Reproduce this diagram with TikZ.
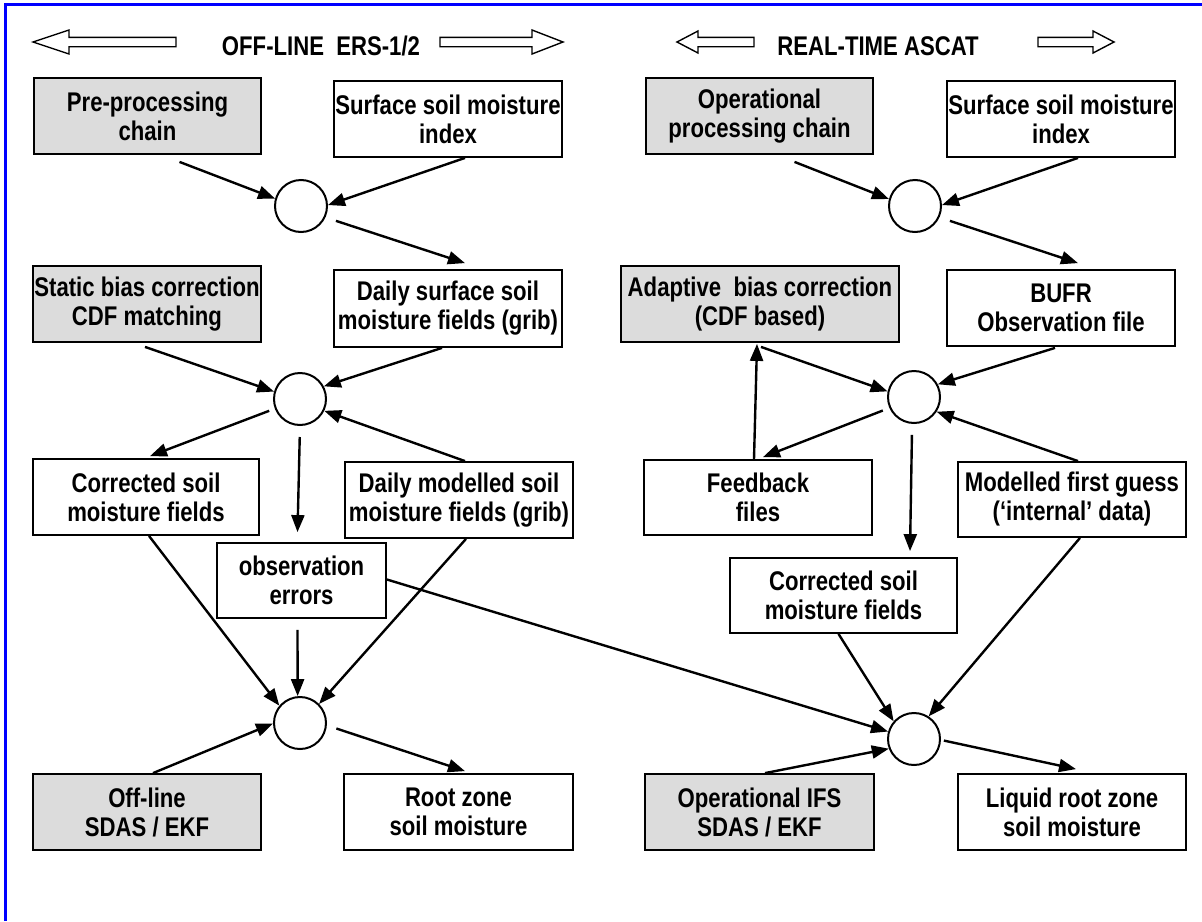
\documentclass[tikz,border=0pt]{standalone}
\usepackage{fontspec}
\setmainfont{Liberation Sans}[FakeStretch=0.82]
\usetikzlibrary{arrows.meta,calc}
\definecolor{boxgray}{HTML}{DCDCDC}
\definecolor{frameblue}{HTML}{0000FF}
\tikzset{
  lbl/.style={font=\fontsize{27}{29}\selectfont\bfseries, align=center, inner sep=0pt},
  wbox/.style={lbl, draw=black, line width=1.8pt, fill=white},
  gbox/.style={wbox, fill=boxgray},
  junction/.style={circle, draw=black, line width=2pt, minimum size=52pt, inner sep=0pt, fill=white},
  flow/.style={line width=2.4pt, -{Triangle[length=17pt,width=13pt]}},
  hdrarrow/.style={draw=black, line width=1.4pt, fill=white},
  hdr/.style={font=\fontsize{27}{29}\selectfont\bfseries, inner sep=0pt, anchor=base}
}
\begin{document}
\begin{tikzpicture}[x=1pt,y=-1pt]
\useasboundingbox (0,0) rectangle (1202,921);
\fill[white] (0,0) rectangle (1202,921);
% frame (top and left only)
\draw[frameblue, line width=3pt] (5,921) -- (5,4) -- (1202,4);

% header arrows
\path[hdrarrow] (33,42) -- (69,30) -- (69,37.3) -- (176,37.3) -- (176,46.7) -- (69,46.7) -- (69,54) -- cycle;
\path[hdrarrow] (440,37.3) -- (532,37.3) -- (532,30) -- (563,42) -- (532,54) -- (532,46.7) -- (440,46.7) -- cycle;
\path[hdrarrow] (677,42) -- (698,31) -- (698,37.3) -- (754,37.3) -- (754,46.7) -- (698,46.7) -- (698,53) -- cycle;
\path[hdrarrow] (1038,37.3) -- (1093,37.3) -- (1093,31) -- (1114,42) -- (1093,53) -- (1093,46.7) -- (1038,46.7) -- cycle;
\node[hdr] (t1) at (321,55) {OFF-LINE~~ERS-1/2};
\node[hdr] (t2) at (878,55) {REAL-TIME ASCAT};

% boxes
\node[gbox, minimum width=227pt, minimum height=76pt] (pre)   at (147.5,116) {Pre-processing\\chain};
\node[wbox, minimum width=228pt, minimum height=76pt] (surfL) at (448,119)   {Surface soil moisture\\index};
\node[gbox, minimum width=227pt, minimum height=76pt] (oper)  at (759.5,116) {Operational\\processing chain};
\node[wbox, minimum width=228pt, minimum height=76pt] (surfR) at (1061,119)  {Surface soil moisture\\index};

\node[gbox, minimum width=228pt, minimum height=76pt] (static) at (147,304)  {Static bias correction\\CDF matching};
\node[wbox, minimum width=228pt, minimum height=77pt] (dsurf)  at (448,308.5){Daily surface soil\\moisture fields (grib)};
\node[gbox, minimum width=278pt, minimum height=76pt] (adapt)  at (760,304)  {Adaptive~~bias correction\\(CDF based)};
\node[wbox, minimum width=228pt, minimum height=76pt] (bufr)   at (1061,308) {BUFR\\Observation file};

\node[wbox, minimum width=226pt, minimum height=76pt] (corrL) at (146,497)   {Corrected soil\\moisture fields};
\node[wbox, minimum width=228pt, minimum height=76pt] (dmod)  at (459,500)   {Daily modelled soil\\moisture fields (grib)};
\node[wbox, minimum width=228pt, minimum height=75pt] (feed)  at (758,497.5) {Feedback\\files};
\node[wbox, minimum width=228pt, minimum height=75pt] (mfg)   at (1072,499.5){Modelled first guess\\(‘internal’ data)};
\node[wbox, minimum width=169pt, minimum height=75pt] (obs)   at (301.5,580.5){observation\\errors};
\node[wbox, minimum width=227pt, minimum height=75pt] (corrR) at (843.5,595.5){Corrected soil\\moisture fields};

\node[gbox, minimum width=228pt, minimum height=76pt] (offl)  at (147,812)   {Off-line\\SDAS / EKF};
\node[wbox, minimum width=229pt, minimum height=76pt] (root)  at (458.5,812) {Root zone\\soil moisture};
\node[gbox, minimum width=229pt, minimum height=76pt] (opifs) at (759.5,812) {Operational IFS\\SDAS / EKF};
\node[wbox, minimum width=228pt, minimum height=76pt] (liq)   at (1072,812)  {Liquid root zone\\soil moisture};

% junctions
\node[junction] (c1L) at (301,206) {};
\node[junction] (c1R) at (915,206) {};
\node[junction] (c2L) at (300,399) {};
\node[junction] (c2R) at (914,397) {};
\node[junction] (c3L) at (300,723) {};
\node[junction] (c3R) at (914,739) {};

% connectors, top row
\draw[flow] ($(pre.south)+(32,7)$) -- (c1L.164);
\draw[flow] ($(surfL.south)+(17,0)$) -- (c1L.2);
\draw[flow, shorten <=11pt] (c1L.335) -- ($(dsurf.north)+(17,-6)$);
\draw[flow] ($(oper.south)+(35,7)$) -- (c1R.165);
\draw[flow] ($(surfR.south)+(17,0)$) -- (c1R.2);
\draw[flow, shorten <=11pt] (c1R.335) -- ($(bufr.north)+(17,-6)$);

% second junctions
\draw[flow] ($(static.south)+(-2,4)$) -- (c2L.164);
\draw[flow] ($(dsurf.south)+(-6,0)$) -- (c2L.28);
\draw[flow, shorten <=6pt] (c2L.201) -- ($(corrL.north)+(4,-2)$);
\draw[flow, shorten <=11pt] (c2L.270) -- ($(obs.north)+(-4,-10)$);
\draw[flow] ($(dmod.north)+(6,0)$) -- (c2L.334);

\draw[flow] ($(adapt.south)+(1,4)$) -- (c2R.168);
\draw[flow] ($(bufr.south)+(-6,1)$) -- (c2R.28);
\draw[flow, shorten <=7pt] (c2R.204) -- ($(feed.north)+(5,-2)$);
\draw[flow, shorten <=11pt] (c2R.266) -- ($(corrR.north)+(66.5,-6)$);
\draw[flow] ($(mfg.north)+(6,0)$) -- (c2R.327);
\draw[flow] ($(feed.north)+(-4,0)$) -- ($(adapt.south)+(-3,1)$);

% bottom junctions
\draw[flow] ($(corrL.south)+(3,0)$) -- (c3L.140);
\draw[flow] ($(obs.south)+(-4,11)$) -- (c3L.95);
\draw[flow] ($(dmod.south)+(7,0)$) -- (c3L.45);
\draw[flow] ($(offl.north)+(6,0)$) -- (c3L.181);
\draw[flow, shorten <=10pt] (c3L.355) -- ($(root.north)+(6.5,-2)$);

\draw[flow] ($(obs.east)+(0,-1)$) -- (c3R.164);
\draw[flow] ($(corrR.south)+(-5,0)$) -- (c3R.139);
\draw[flow] ($(mfg.south)+(8,0)$) -- (c3R.57);
\draw[flow] ($(opifs.north)+(5.5,0)$) -- (c3R.201);
\draw[flow, shorten <=3pt] (c3R.358) -- ($(liq.north)+(4,-4)$);
\end{tikzpicture}
\end{document}
